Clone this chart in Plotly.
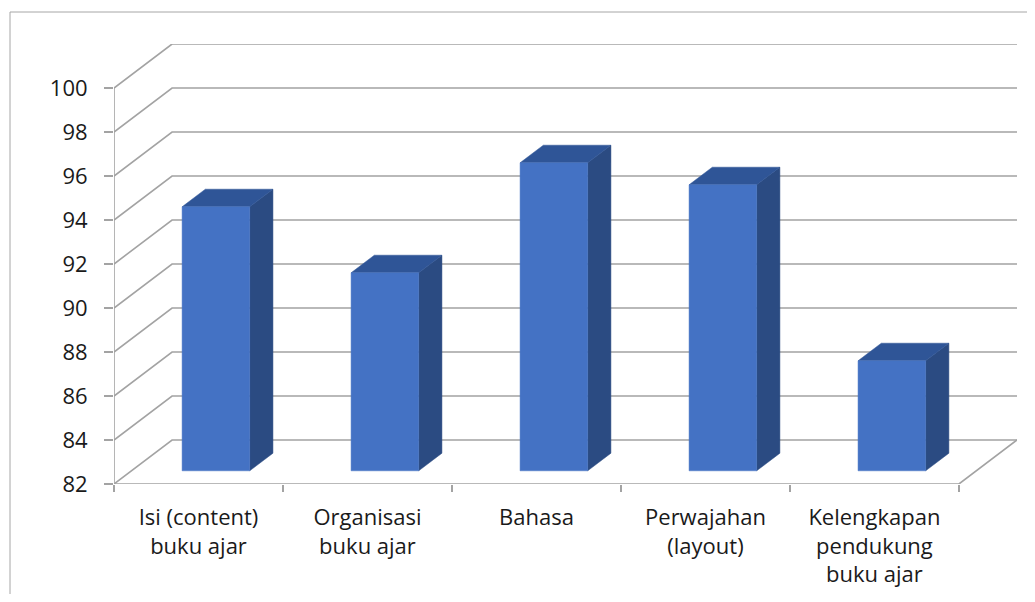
import plotly.graph_objects as go

# ---- data ----
categories = ["Isi (content)<br>buku ajar", "Organisasi<br>buku ajar", "Bahasa",
              "Perwajahan<br>(layout)", "Kelengkapan<br>pendukung<br>buku ajar"]
values = [94, 91, 96, 95, 87]
y_ticks = [82, 84, 86, 88, 90, 92, 94, 96, 98, 100]

# ---- 3D oblique projection settings ----
Y_MIN = 82
DEPTH_DX = 0.3436   # category units for full depth
DEPTH_DY = 2.0      # value units for full depth
BAR_HALF = 0.2
D0, D1 = 0.3, 0.7
GRID = "#a3a3a3"
FRONT = "#4472c4"
TOP = "#2f5597"
SIDE = "#2b4b82"
FONT = "Open Sans"

n = len(categories)
x_lo, x_hi = -0.5, n - 0.5


def proj(x, y, d):
    return x + d * DEPTH_DX, y + d * DEPTH_DY


fig = go.Figure()


def add_line(pts):
    xs, ys = zip(*[proj(*p) for p in pts])
    fig.add_trace(go.Scatter(x=list(xs), y=list(ys), mode="lines",
                             line=dict(color=GRID, width=1.6),
                             hoverinfo="skip", showlegend=False))


# walls / gridlines
for v in y_ticks:
    add_line([(x_lo, v, 0), (x_lo, v, 1), (x_hi, v, 1)])
# floor right edge and front axis
add_line([(x_hi, Y_MIN, 1), (x_hi, Y_MIN, 0), (x_lo, Y_MIN, 0), (x_lo, y_ticks[-1], 0)])


def add_poly(pts, color):
    xs, ys = zip(*[proj(*p) for p in pts])
    fig.add_trace(go.Scatter(x=list(xs) + [xs[0]], y=list(ys) + [ys[0]], mode="lines",
                             fill="toself", fillcolor=color,
                             line=dict(color=color, width=0.5),
                             hoverinfo="skip", showlegend=False))


for i, v in enumerate(values):
    xl, xr = i - BAR_HALF, i + BAR_HALF
    add_poly([(xr, Y_MIN, D0), (xr, Y_MIN, D1), (xr, v, D1), (xr, v, D0)], SIDE)
    add_poly([(xl, v, D0), (xr, v, D0), (xr, v, D1), (xl, v, D1)], TOP)
    add_poly([(xl, Y_MIN, D0), (xr, Y_MIN, D0), (xr, v, D0), (xl, v, D0)], FRONT)

# page has an 8px body margin; size figure so the plot area lands where intended
BODY = 8
W, H = 1035 - 2 * BODY, 602 - 2 * BODY
PL, PR, PT, PB = 114, 1017, 44, 484          # target plot-area pixels in the window
ML, MT = PL - BODY, PT - BODY
MR = (BODY + W) - PR
MB = (BODY + H) - PB
pw, ph = W - ML - MR, H - MT - MB

fig.update_layout(
    width=W, height=H,
    margin=dict(l=ML, r=MR, t=MT, b=MB, pad=0, autoexpand=False),
    paper_bgcolor="white", plot_bgcolor="white",
    font=dict(family=FONT, size=22, color="#1a1a1a"),
    xaxis=dict(range=[x_lo, x_hi + DEPTH_DX], tickvals=list(range(n)), ticktext=categories,
               showgrid=False, zeroline=False, showline=False, ticks="",
               ticklabelstandoff=18, automargin=False,
               minor=dict(tick0=x_lo, dtick=1, ticks="outside", ticklen=7,
                          tickcolor=GRID, tickwidth=1.6, showgrid=False),
               fixedrange=True),
    yaxis=dict(range=[Y_MIN, y_ticks[-1] + DEPTH_DY], tickvals=y_ticks,
               ticktext=[str(t) for t in y_ticks],
               showgrid=False, zeroline=False, showline=False, ticks="outside",
               ticklen=9, tickcolor=GRID, tickwidth=1.6, ticklabelstandoff=12,
               automargin=False, fixedrange=True),
    shapes=[dict(type="path", xref="paper", yref="paper",
                 path=f"M {(10-PL)/pw} {-0.5} L {(10-PL)/pw} {1+(PT-12)/ph} L 1.2 {1+(PT-12)/ph}",
                 line=dict(color="#a6a6a6", width=1))],
)

fig.write_html("out.html")
